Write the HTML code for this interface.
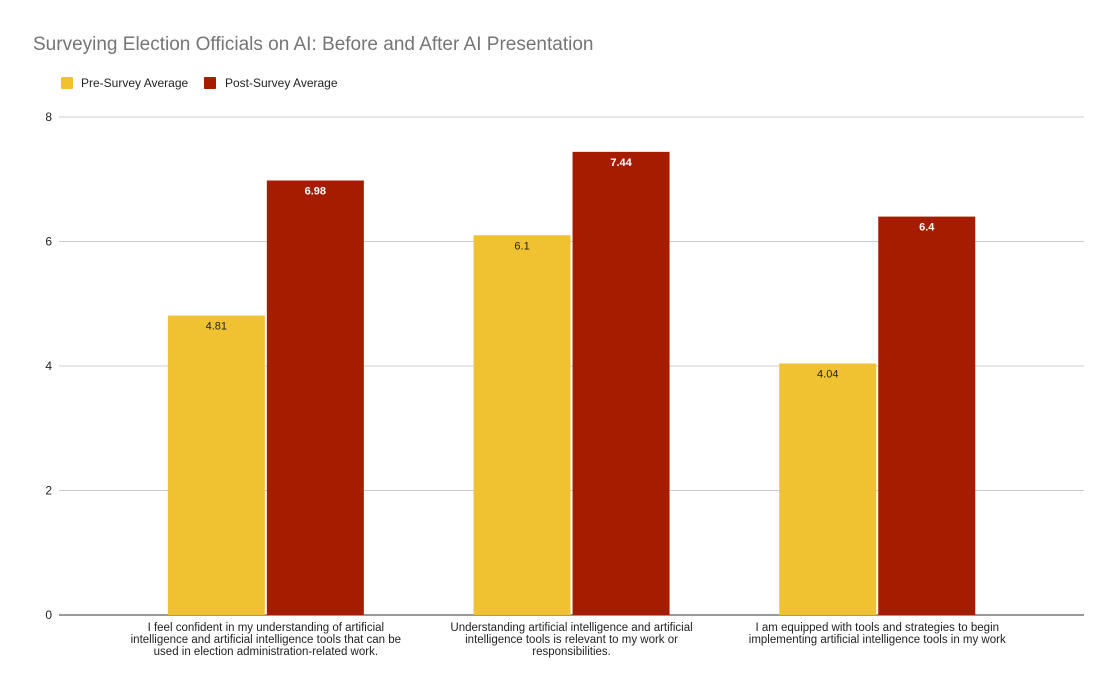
<!DOCTYPE html>
<html><head><meta charset="utf-8"><style>
body{margin:0;background:#fff;}
svg text{font-family:"Liberation Sans",Arial,sans-serif;}
</style></head><body>
<svg id="chart" width="1117" height="690" xmlns="http://www.w3.org/2000/svg">
<rect width="1117" height="690" fill="#fff"/>
<text x="33" y="50" font-size="19" fill="#757575">Surveying Election Officials on AI: Before and After AI Presentation</text>
<g>
<rect x="61" y="77" width="12" height="12" rx="1" fill="#f0c232"/>
<text x="81" y="87" font-size="12" fill="#222">Pre-Survey Average</text>
<rect x="204" y="77" width="12" height="12" rx="1" fill="#a61c00"/>
<text x="225" y="87" font-size="12" fill="#222">Post-Survey Average</text>
</g>
<g id="grid"></g><g id="bars"></g><g id="xl"></g>
</svg>
<script>
const categories=[
["I feel confident in my understanding of artificial","intelligence and artificial intelligence tools that can be","used in election administration-related work."],
["Understanding artificial intelligence and artificial","intelligence tools is relevant to my work or","responsibilities."],
["I am equipped with tools and strategies to begin","implementing artificial intelligence tools in my work"]
];
const preValues=[4.81,6.1,4.04];
const postValues=[6.98,7.44,6.4];
const yTicks=[0,2,4,6,8];
const NS="http://www.w3.org/2000/svg";
const y0=615,yTop=117,yMax=8;
const y=v=>y0-(v/yMax)*(y0-yTop);
const step=305.7,left=113;
const xc=i=>left+step*(i+0.5);
const bw=97,gap=2;
function mk(tag,attrs,parent){const e=document.createElementNS(NS,tag);for(const k in attrs)e.setAttribute(k,attrs[k]);parent.appendChild(e);return e;}
const grid=document.getElementById('grid'),bars=document.getElementById('bars'),xl=document.getElementById('xl');
yTicks.forEach(t=>{
 const l=mk('line',{x1:59,x2:1084,y1:y(t),y2:y(t),stroke:t===0?'#333':'#ccc','stroke-width':1},grid);
 
 
 const tx=mk('text',{x:52,y:y(t)+4,'font-size':12,fill:'#222','text-anchor':'end'},grid);
 tx.textContent=t;
 
 
});
categories.forEach((c,i)=>{
 [[preValues[i],'#f0c232',-1,'#222','pre'],[postValues[i],'#a61c00',1,'#fff','post']].forEach(([v,col,s,tc,nm])=>{
  const x=s<0?xc(i)-gap/2-bw:xc(i)+gap/2;
  const r=mk('rect',{x:x,y:y(v),width:bw,height:y0-y(v),fill:col},bars);
  
  
  const t=mk('text',{x:x+bw/2,y:y(v)+14,'font-size':11,fill:tc,'text-anchor':'middle','font-weight':nm==='post'?'bold':'normal'},bars);
  t.textContent=v;
  
  
 });
 c.forEach((line,j)=>{
  const t=mk('text',{x:xc(i),y:631+j*12,'font-size':11.5,fill:'#222','text-anchor':'middle'},xl);
  t.textContent=line;
  
  
 });
});
</script>
</body></html>
